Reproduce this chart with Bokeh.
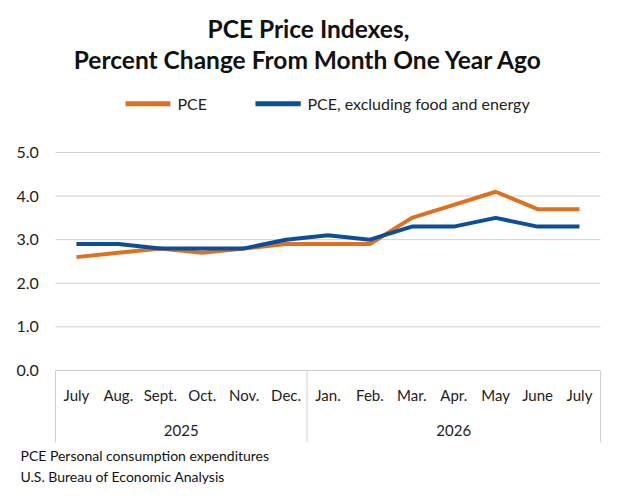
from bokeh.plotting import figure
from bokeh.models import Range1d
from bokeh.embed import file_html
from bokeh.resources import INLINE
from bokeh.core.properties import value

months = ["July","Aug.","Sept.","Oct.","Nov.","Dec.","Jan.","Feb.","Mar.","Apr.","May","June","July"]
years = ["2025", "2026"]
pce = [2.6, 2.7, 2.8, 2.7, 2.8, 2.9, 2.9, 2.9, 3.5, 3.8, 4.1, 3.7, 3.7]
core = [2.9, 2.9, 2.8, 2.8, 2.8, 3.0, 3.1, 3.0, 3.3, 3.3, 3.5, 3.3, 3.3]
series_names = ["PCE", "PCE, excluding food and energy"]
yticks = [0, 1, 2, 3, 4, 5]
title_lines = ["PCE Price Indexes,", "Percent Change From Month One Year Ago"]
notes = ["PCE Personal consumption expenditures", "U.S. Bureau of Economic Analysis"]

F = "Lato"
W, H = 615, 500
p = figure(width=W, height=H, output_backend="svg", toolbar_location=None,
           x_range=Range1d(-1.812, 12.859), y_range=Range1d(-2.982, 8.486),
           min_border=0)
p.outline_line_color = None
p.axis.visible = False
p.grid.visible = False

C1, C2 = "#e0701f", "#0b4f9c"
TXT = "#222222"
GRID = "#d0d0d0"

p.segment(x0=[-0.5]*len(yticks), y0=yticks, x1=[12.5]*len(yticks), y1=yticks,
          line_color=GRID, line_width=1)
p.text(x=[-0.9]*len(yticks), y=yticks, text=[f"{t:.1f}" for t in yticks],
       text_align="right", text_baseline="middle", text_font=value(F),
       text_font_size="16px", text_color=TXT)

xs = list(range(len(months)))
p.line(xs, pce, line_color=C1, line_width=4)
p.line(xs, core, line_color=C2, line_width=4)

p.text(x=xs, y=[-0.57]*len(xs), text=months, text_align="center", text_baseline="middle",
       text_font=value(F), text_font_size="15px", text_color=TXT)
p.text(x=[2.5, 9.0], y=[-1.38, -1.38], text=years, text_align="center", text_baseline="middle",
       text_font=value(F), text_font_size="15px", text_color=TXT)
p.segment(x0=[-0.5, 5.5, 12.5], y0=[0, 0, 0], x1=[-0.5, 5.5, 12.5], y1=[-1.65]*3,
          line_color=GRID, line_width=1)

p.segment(x0=[1.17, 4.27], y0=[6.12, 6.12], x1=[2.24, 5.35], y1=[6.12, 6.12],
          line_color=[C1, C2], line_width=5)
p.text(x=[2.41, 5.51], y=[6.12, 6.12], text=series_names, text_baseline="middle",
       text_font=value(F), text_font_size="16px", text_color=TXT)

p.text(x=[5.535, 5.535], y=[7.84, 7.13], text=title_lines, text_align="center",
       text_baseline="middle", text_font=value(F), text_font_size="24.5px",
       text_font_style="bold", text_color="#111111")
p.text(x=[-1.335, -1.335], y=[-1.95, -2.43], text=notes, text_baseline="middle",
       text_font=value(F), text_font_size="14px", text_color="#111111")

open("out.html", "w").write(file_html(p, INLINE))
